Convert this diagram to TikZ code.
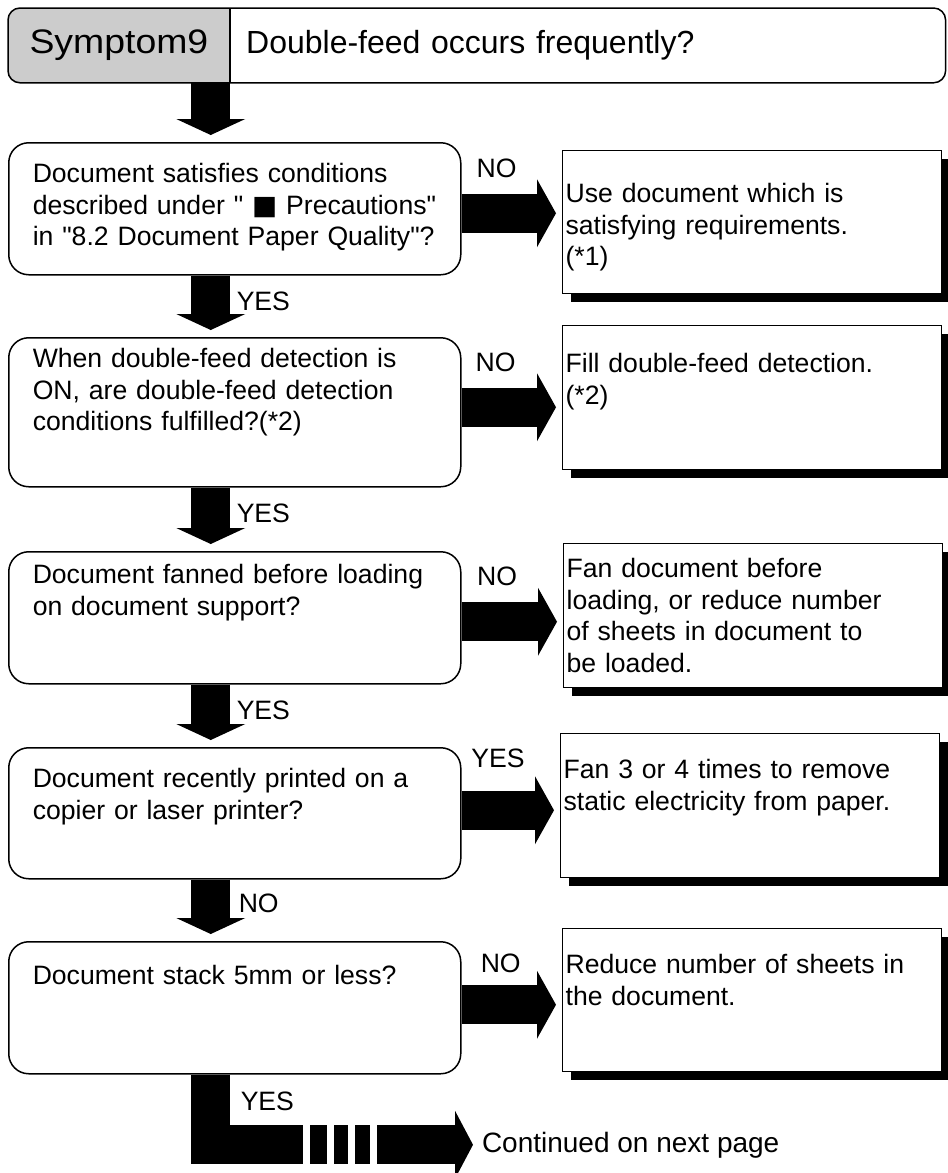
\documentclass[tikz,border=0pt]{standalone}
\usepackage{fontspec}
\setmainfont[Ligatures=TeXOff]{Liberation Sans}
\newfontfamily\dejavu{DejaVu Sans}
\usetikzlibrary{arrows.meta,shadows,backgrounds}
\definecolor{symgray}{gray}{0.8}
\newcommand\txt{\fontsize{13.3}{15.75}\selectfont}

\begin{document}
\begin{tikzpicture}[x=0.5pt,y=-0.5pt,
  cell/.style={minimum height=37pt,inner sep=0pt},
  ask/.style={draw,line width=.75pt,rounded corners=10pt,anchor=north west,text width=202pt,inner xsep=12pt,inner ysep=0pt,align=left,font=\txt},
  fix/.style={draw,line width=.6pt,fill=white,drop shadow={shadow xshift=4pt,shadow yshift=-4pt,opacity=1,fill=black},anchor=north west,text width=186.5pt,inner xsep=1.5pt,inner ysep=0pt,align=left,font=\txt},
  lbl/.style={font=\txt,inner sep=0pt,outer sep=0pt},
  down/.style={line width=19.5pt,-{Triangle[width=34.5pt,length=8pt,line width=0pt]},shorten >=3.5pt},
  side/.style={line width=19.5pt,-{Triangle[width=34pt,length=9.5pt,line width=0pt]},shorten >=3pt}]
\useasboundingbox (0,0) rectangle (948,1173);
% header
\node[cell,minimum width=110.5pt,anchor=north west,font=\fontsize{17}{20}\selectfont\addfontfeature{FakeStretch=1.1}] (sym) at (8,8) {Symptom9};
\node[cell,minimum width=357.5pt,text width=341.5pt,inner xsep=8pt,align=left,anchor=west,font=\fontsize{16}{19}\selectfont] (title) at (sym.east) {Double-feed occurs frequently?};
\begin{scope}[on background layer]
\fill[symgray,rounded corners=6pt] (sym.north east) -| (sym.south west) -- (sym.south east);
\end{scope}
\draw[line width=.75pt,rounded corners=6pt] (sym.north west) rectangle (title.south east);
\draw[line width=.75pt] (sym.north east) -- (sym.south east);
% questions
\node[ask,text height=20pt,text depth=46pt] (q1) at (8,142) {Document satisfies conditions\\described under " {\dejavu ■} Precautions"\\in "8.2 Document Paper Quality"?};
\node[ask,text height=15pt,text depth=59.5pt] (q2) at (8,337) {When double-feed detection is\\ON, are double-feed detection\\conditions fulfilled?(*2)};
\node[ask,text height=16pt,text depth=50pt] (q3) at (8,551) {Document fanned before loading\\on document support?};
\node[ask,text height=20pt,text depth=45.5pt] (q4) at (8,747) {Document recently printed on a\\copier or laser printer?};
\node[ask,text height=21.5pt,text depth=44.5pt] (q5) at (8,941) {Document stack 5mm or less?};
% answers
\node[fix,text height=26pt,text depth=45.5pt] (a1) at (562,150) {Use document which is\\satisfying requirements.\\(*1)};
\node[fix,text height=23.5pt,text depth=48.5pt] (a2) at (562,325) {Fill double-feed detection.\\(*2)};
\node[fix,text height=17pt,text depth=55pt] (a3) at (563,543) {Fan document before\\loading, or reduce number\\of sheets in document to\\be loaded.};
\node[fix,text height=22.5pt,text depth=49.5pt] (a4) at (560,733) {Fan 3 or 4 times to remove\\static electricity from paper.};
\node[fix,text height=22.5pt,text depth=49pt] (a5) at (562,928) {Reduce number of sheets in\\the document.};
\node[lbl,anchor=base west,font=\fontsize{14}{16}\selectfont] (cont) at (482,1152) {Continued on next page};
% flow
\draw[down] ([xshift=-12pt]q1.north |- sym.south) -- ([xshift=-12pt]q1.north);
\draw[down] ([xshift=-12pt]q1.south) -- ([xshift=-12pt]q2.north) node[lbl,pos=0,anchor=north west,xshift=13pt,yshift=-8pt] {YES};
\draw[down] ([xshift=-12pt]q2.south) -- ([xshift=-12pt]q3.north) node[lbl,pos=0,anchor=north west,xshift=13pt,yshift=-8pt] {YES};
\draw[down] ([xshift=-12pt]q3.south) -- ([xshift=-12pt]q4.north) node[lbl,pos=0,anchor=north west,xshift=13pt,yshift=-8pt] {YES};
\draw[down] ([xshift=-12pt]q4.south) -- ([xshift=-12pt]q5.north) node[lbl,pos=0,anchor=north west,xshift=14pt,yshift=-7pt] {NO};
\draw[side] ([yshift=-2.25pt]q1.east) -- ([yshift=-2.25pt]q1.east -| a1.west) node[lbl,pos=.35,above=17.75pt] {NO};
\draw[side] ([yshift=2.5pt]q2.east) -- ([yshift=2.5pt]q2.east -| a2.west) node[lbl,pos=.34,above=17.75pt] {NO};
\draw[side] ([yshift=-2pt]q3.east) -- ([yshift=-2pt]q3.east -| a3.west) node[lbl,pos=.35,above=17.75pt] {NO};
\draw[side] ([yshift=1.5pt]q4.east) -- ([yshift=1.5pt]q4.east -| a4.west) node[lbl,pos=.37,above=21pt] {YES};
\draw[side] ([yshift=1.5pt]q5.east) -- ([yshift=1.5pt]q5.east -| a5.west) node[lbl,pos=.39,above=16pt] {NO};
\draw[down,shorten >=4.5pt,-{Triangle[width=34pt,length=9pt,line width=0pt]}] ([xshift=-12pt]q5.south) |- (cont.west) node[lbl,pos=0,anchor=north west,xshift=15pt,yshift=-8.5pt] {YES};
\foreach \g in {303,326.5,347.5,369.5} \fill[white] (\g,1120) rectangle ++(7,48);
\end{tikzpicture}
\end{document}
